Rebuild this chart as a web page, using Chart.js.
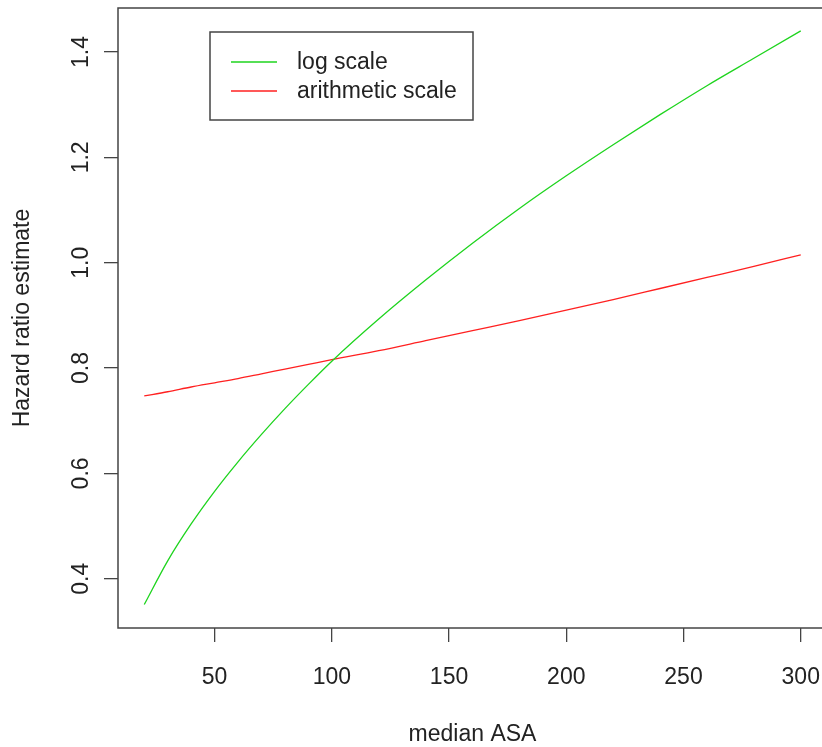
<!DOCTYPE html>
<html>
<head>
<meta charset="utf-8">
<script src="https://cdn.jsdelivr.net/npm/chart.js@4/dist/chart.umd.min.js"></script>
<style>
  html, body { margin: 0; padding: 0; background: #fff; overflow: hidden; }
  #wrap { position: relative; width: 830px; height: 747px; }
</style>
</head>
<body>
<div id="wrap"><canvas id="c" width="830" height="747"></canvas></div>
<script>
// values
const asa = [20, 30, 40, 50, 60, 70, 80, 90, 100, 120, 140, 160, 180, 200, 220, 240, 260, 280, 300];
const logScale = [0.351, 0.434, 0.504, 0.566, 0.622, 0.674, 0.723, 0.769, 0.813, 0.893, 0.967, 1.037, 1.103, 1.165, 1.224, 1.281, 1.336, 1.388, 1.440];
const arithScale = [0.747, 0.755, 0.764, 0.772, 0.780, 0.789, 0.798, 0.807, 0.816, 0.833, 0.852, 0.871, 0.890, 0.910, 0.930, 0.951, 0.972, 0.993, 1.015];
const xTicks = [50, 100, 150, 200, 250, 300];
const yTicks = [0.4, 0.6, 0.8, 1.0, 1.2, 1.4];
const seriesNames = ['log scale', 'arithmetic scale'];
const seriesColors = ['#1ed41e', '#ff2020'];

const FONT = '23px "Liberation Sans", Arial, sans-serif';
const INK = '#222';
const AXIS = '#444';

const rAxes = {
    id: 'rAxes',
    afterDraw(chart) {
        const ctx = chart.ctx;
        const a = chart.chartArea;
        const xs = chart.scales.x, ys = chart.scales.y;
        ctx.save();
        // plot box
        ctx.strokeStyle = AXIS;
        ctx.lineWidth = 1.5;
        ctx.strokeRect(a.left, a.top, a.right - a.left, a.bottom - a.top);

        ctx.fillStyle = INK;
        ctx.font = FONT;
        // x tick labels
        ctx.textAlign = 'center';
        ctx.textBaseline = 'alphabetic';
        xTicks.forEach(v => {
            ctx.fillText(String(v), xs.getPixelForValue(v), 684);
        });
        // y tick labels, rotated like R
        yTicks.forEach(v => {
            ctx.save();
            ctx.translate(88, ys.getPixelForValue(v));
            ctx.rotate(-Math.PI / 2);
            ctx.fillText(v.toFixed(1), 0, 0);
            ctx.restore();
        });
        // titles
        ctx.fillText('median ASA', (a.left + a.right) / 2, 741);
        ctx.save();
        ctx.translate(29, (a.top + a.bottom) / 2);
        ctx.rotate(-Math.PI / 2);
        ctx.fillText('Hazard ratio estimate', 0, 0);
        ctx.restore();

        // legend box
        ctx.strokeStyle = AXIS;
        ctx.lineWidth = 1.5;
        ctx.fillStyle = '#fff';
        ctx.fillRect(210, 32, 263, 88);
        ctx.strokeRect(210, 32, 263, 88);
        ctx.textAlign = 'left';
        ctx.textBaseline = 'middle';
        chart.data.datasets.forEach((ds, i) => {
            const y = 62 + i * 29;
            ctx.strokeStyle = ds.borderColor;
            ctx.lineWidth = 1.3;
            ctx.beginPath();
            ctx.moveTo(231, y);
            ctx.lineTo(277, y);
            ctx.stroke();
            ctx.fillStyle = INK;
            ctx.fillText(ds.label, 297, y + 1);
        });
        ctx.restore();
    }
};

const gridOpts = {
    drawOnChartArea: false,
    drawTicks: true,
    tickLength: 14,
    color: AXIS,
    lineWidth: 1.3
};

new Chart(document.getElementById('c'), {
    type: 'line',
    data: {
        datasets: [
            {
                label: seriesNames[0],
                data: asa.map((x, i) => ({ x: x, y: logScale[i] })),
                borderColor: seriesColors[0],
                borderWidth: 1.3,
                pointRadius: 0,
                cubicInterpolationMode: 'monotone',
                fill: false
            },
            {
                label: seriesNames[1],
                data: asa.map((x, i) => ({ x: x, y: arithScale[i] })),
                borderColor: seriesColors[1],
                borderWidth: 1.3,
                pointRadius: 0,
                cubicInterpolationMode: 'monotone',
                fill: false
            }
        ]
    },
    options: {
        responsive: false,
        animation: false,
        layout: { padding: { top: 8, right: 3, left: 0, bottom: 0 } },
        plugins: { legend: { display: false }, tooltip: { enabled: false } },
        scales: {
            x: {
                type: 'linear',
                min: 8.8,
                max: 311.2,
                afterBuildTicks: s => { s.ticks = xTicks.map(v => ({ value: v })); },
                afterFit: s => { s.height = 119; },
                ticks: { display: false },
                grid: gridOpts,
                border: { display: false }
            },
            y: {
                type: 'linear',
                min: 0.3065,
                max: 1.4835,
                afterBuildTicks: s => { s.ticks = yTicks.map(v => ({ value: v })); },
                afterFit: s => { s.width = 118; },
                ticks: { display: false },
                grid: gridOpts,
                border: { display: false }
            }
        }
    },
    plugins: [rAxes]
});
</script>
</body>
</html>
